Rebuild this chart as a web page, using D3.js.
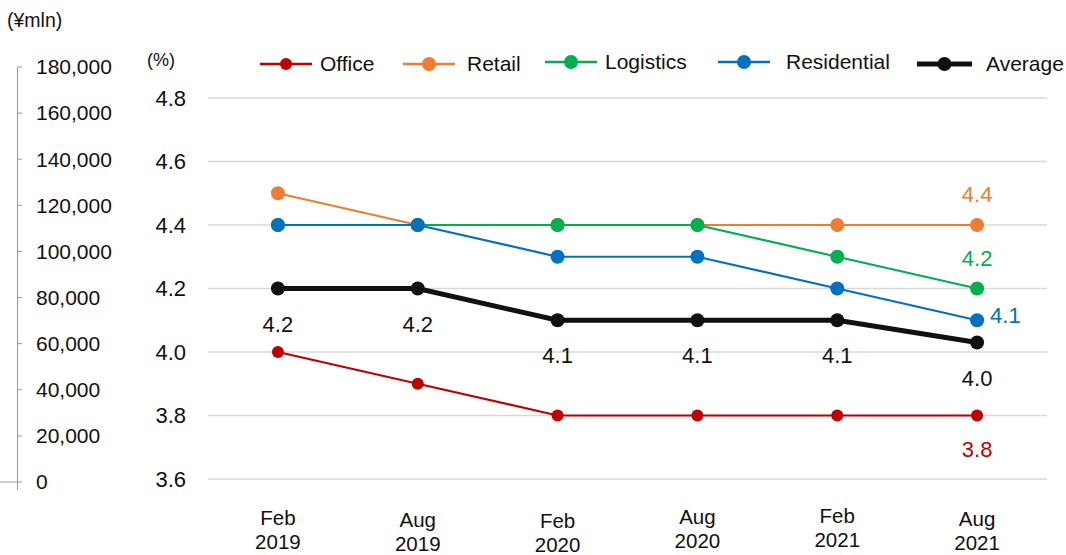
<!DOCTYPE html>
<html><head><meta charset="utf-8">
<script src="https://cdn.jsdelivr.net/npm/d3@7"></script>
<style>
body{margin:0;background:#fff;}
text{font-family:"Liberation Sans",Arial,sans-serif;fill:#111;}
</style></head>
<body><svg id="c" width="1066" height="555"></svg>
<script>
const categories = ["Feb|2019","Aug|2019","Feb|2020","Aug|2020","Feb|2021","Aug|2021"];
const office = [4.0, 3.9, 3.8, 3.8, 3.8, 3.8];
const retail = [4.5, 4.4, 4.4, 4.4, 4.4, 4.4];
const logistics = [4.4, 4.4, 4.4, 4.4, 4.3, 4.2];
const residential = [4.4, 4.4, 4.3, 4.3, 4.2, 4.1];
const average = [4.2, 4.2, 4.1, 4.1, 4.1, 4.03];
const pctTicks = [3.6, 3.8, 4.0, 4.2, 4.4, 4.6, 4.8];
const mlnTicks = [0, 20000, 40000, 60000, 80000, 100000, 120000, 140000, 160000, 180000];

const series = [
  {name:"Office", values:office, color:"#C00000", w:2.2},
  {name:"Retail", values:retail, color:"#ED7D31", w:2.2},
  {name:"Logistics", values:logistics, color:"#00B050", w:2.2},
  {name:"Residential", values:residential, color:"#0070C0", w:2.2},
  {name:"Average", values:average, color:"#111111", w:5}
];

const svg = d3.select("#c");
const x = d3.scaleBand().domain(categories).range([208, 1047]);
const y = d3.scaleLinear().domain([3.6, 4.8]).range([479, 98]);
const yL = d3.scaleLinear().domain([0, 180000]).range([482, 67]);
const cx = d => x(d) + x.bandwidth()/2;

// gridlines
svg.append("g").selectAll("line").data(pctTicks).join("line")
  .attr("x1", 208).attr("x2", 1047)
  .attr("y1", d => y(d)).attr("y2", d => y(d))
  .attr("stroke", "#d9d9d9").attr("stroke-width", 1.5);

// % axis labels
svg.append("g").selectAll("text").data(pctTicks).join("text")
  .attr("x", 186).attr("y", d => y(d)).attr("dy", "0.35em")
  .attr("text-anchor", "end").attr("font-size", 22)
  .text(d => d.toFixed(1));
svg.append("text").attr("x", 147).attr("y", 66).attr("font-size", 18).text("(%)");

// left ¥mln axis
const gl = svg.append("g");
gl.append("line").attr("x1", 17.5).attr("x2", 17.5).attr("y1", yL(180000)).attr("y2", 490)
  .attr("stroke", "#999").attr("stroke-width", 1);
gl.selectAll("line.t").data(mlnTicks).join("line").attr("class","t")
  .attr("x1", 17.5).attr("x2", 22).attr("y1", d => yL(d)).attr("y2", d => yL(d))
  .attr("stroke", "#999");
gl.append("line").attr("x1", 0).attr("x2", 17.5).attr("y1", yL(0)).attr("y2", yL(0)).attr("stroke", "#999");
gl.selectAll("text").data(mlnTicks).join("text")
  .attr("x", 36).attr("y", d => yL(d)).attr("dy", "0.35em").attr("font-size", 21)
  .text(d => d3.format(",")(d));
svg.append("text").attr("x", 7).attr("y", 27).attr("font-size", 19.5).text("(¥mln)");

// x labels
const xl = svg.append("g").selectAll("text").data(categories).join("text")
  .attr("text-anchor", "middle").attr("font-size", 20.5)
  .attr("font-family", "'Liberation Sans Narrow','Liberation Sans',Arial,sans-serif")
  .attr("transform", (d,i) => `translate(${cx(d)},${[525,527,528,524,523,526][i]})`);
xl.append("tspan").attr("x", 0).attr("dy", 0).text(d => d.split("|")[0]);
xl.append("tspan").attr("x", 0).attr("dy", 24).text(d => d.split("|")[1]);

// lines
const line = d3.line().x((v,i) => cx(categories[i])).y(v => y(v));
series.forEach(s => {
  svg.append("path").datum(s.values).attr("d", line)
    .attr("fill", "none").attr("stroke", s.color).attr("stroke-width", s.w);
  svg.append("g").selectAll("circle").data(s.values).join("circle")
    .attr("cx", (v,i) => cx(categories[i])).attr("cy", v => y(v))
    .attr("r", s.name === "Office" ? 6 : 7).attr("fill", s.color);
});

// data labels
const fmt = v => v.toFixed(1);
const last = categories.length - 1;
const lab = (txt, px, py, color, anchor) => svg.append("text").attr("x", px).attr("y", py)
  .attr("text-anchor", anchor || "middle").attr("font-size", 22).style("fill", color).text(txt);
average.forEach((v,i) => lab(fmt(v), cx(categories[i]), y(v) + (i === last ? 44 : 43), "#111"));
lab(fmt(office[last]), cx(categories[last]), y(office[last]) + 41, "#C00000");
lab(fmt(retail[last]), cx(categories[last]), y(retail[last]) - 23, "#ED7D31");
lab(fmt(logistics[last]), cx(categories[last]), y(logistics[last]) - 23, "#00B050");
lab(fmt(residential[last]), cx(categories[last]) + 13, y(residential[last]) + 3, "#0070C0", "start");

// legend
const legendPos = [{lx:260, tx:320, y:64}, {lx:403, tx:467, y:64}, {lx:545, tx:605, y:62}, {lx:718, tx:786, y:62}, {lx:917, tx:986, y:64}];
series.forEach((s, i) => {
  const p = legendPos[i];
  const len = s.name === "Average" ? 55 : 52;
  svg.append("line").attr("x1", p.lx).attr("x2", p.lx + len).attr("y1", p.y).attr("y2", p.y)
    .attr("stroke", s.color).attr("stroke-width", s.name === "Average" ? 5 : 2.5);
  svg.append("circle").attr("cx", p.lx + len/2).attr("cy", p.y).attr("r", s.name === "Office" ? 6 : 7).attr("fill", s.color);
  svg.append("text").attr("x", p.tx).attr("y", p.y).attr("dy", "0.35em").attr("font-size", 21).text(s.name);
});
</script></body></html>
